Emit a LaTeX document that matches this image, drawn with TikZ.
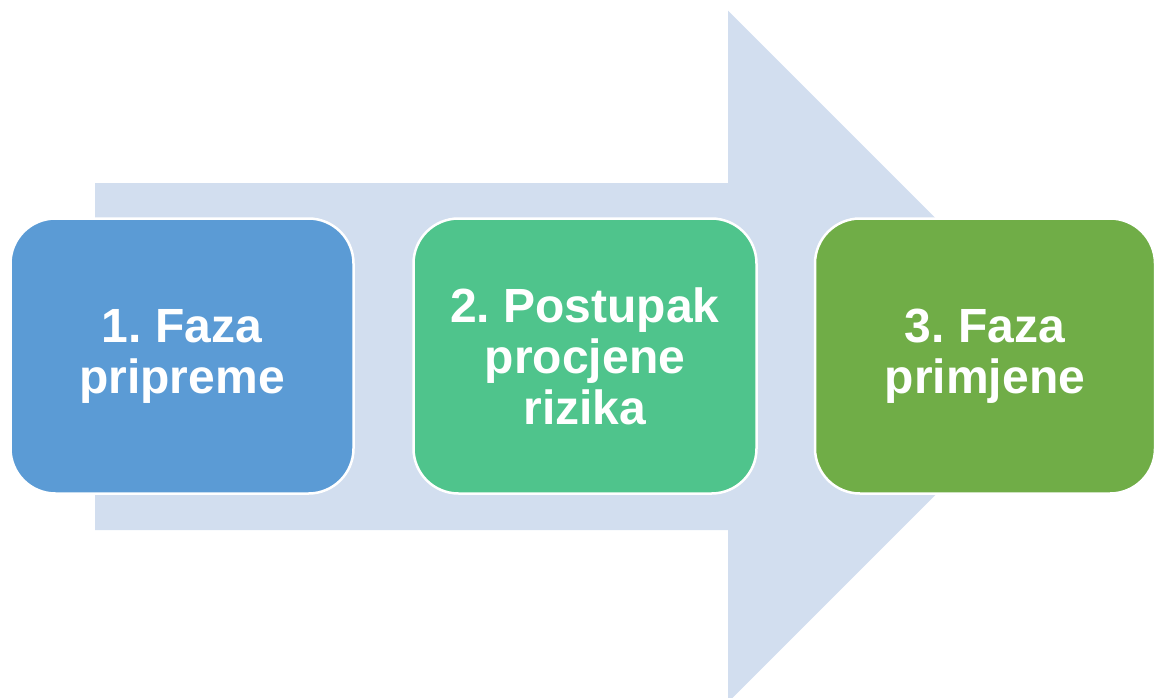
\documentclass[tikz,border=0pt]{standalone}
\usepackage{fontspec}
\setmainfont{Liberation Sans}
\frenchspacing
\definecolor{arrowbg}{RGB}{210,222,239}
\definecolor{boxblue}{RGB}{91,155,213}
\definecolor{boxteal}{RGB}{79,196,140}
\definecolor{boxgreen}{RGB}{112,173,71}
\tikzset{
  phase/.style={draw=white, line width=2.5pt, rounded corners=45pt,
    minimum width=343pt, minimum height=275pt, inner sep=0pt,
    text=white, align=center,
    font=\bfseries\fontsize{48}{51}\selectfont},
}
\begin{document}
\begin{tikzpicture}[x=1pt,y=-1pt]
\useasboundingbox (0,0) rectangle (1156,697);
\fill[arrowbg] (95,183) -- (728,183) -- (728,10.7) -- (1074,356.5)
  -- (728,702.3) -- (728,530) -- (95,530) -- cycle;
\node[phase, fill=boxblue] (p1) at (182,356) {1. Faza\\pripreme};
\node[phase, fill=boxteal] (p2) at (585,356) {2. Postupak\\procjene\\rizika};
\node[phase, fill=boxgreen, minimum width=340pt] (p3) at (985,356) {3. Faza\\primjene};
\end{tikzpicture}
\end{document}
